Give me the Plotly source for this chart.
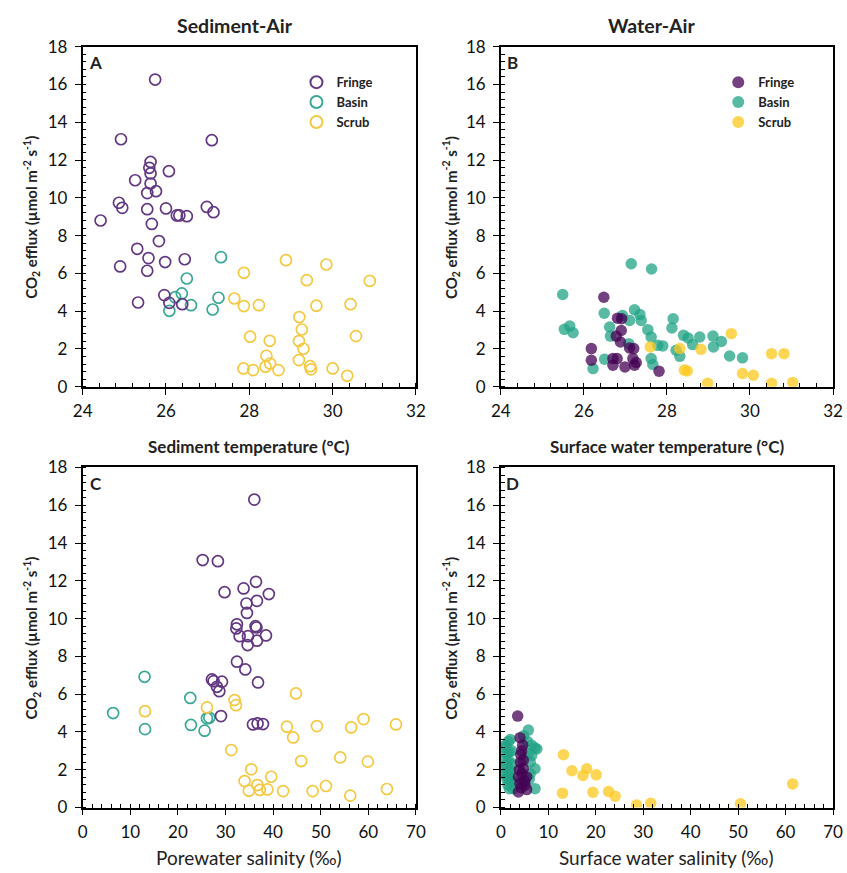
import plotly.graph_objects as go

# ---------------- data ----------------
# Panel A: sediment temperature (°C) vs CO2 efflux
A_fringe_x = [25.74, 24.92, 27.10, 25.63, 25.60, 25.63, 26.07, 25.26, 25.63, 25.55, 25.76, 24.87, 24.95,
              25.55, 26.00, 26.26, 26.32, 26.50, 26.98, 27.14, 24.43, 25.66, 25.83, 25.31, 25.58, 24.90,
              25.55, 25.98, 26.45, 25.33, 25.96, 26.08, 26.39]
A_fringe_y = [16.26, 13.10, 13.05, 11.90, 11.59, 11.29, 11.41, 10.93, 10.76, 10.25, 10.35, 9.74, 9.47,
              9.40, 9.44, 9.07, 9.07, 9.03, 9.52, 9.24, 8.80, 8.62, 7.71, 7.30, 6.81, 6.37,
              6.14, 6.60, 6.75, 4.46, 4.85, 4.44, 4.37]
A_basin_x = [27.32, 26.50, 26.38, 26.22, 26.60, 26.08, 27.26, 27.12]
A_basin_y = [6.86, 5.73, 4.94, 4.74, 4.32, 4.02, 4.71, 4.09]
A_scrub_x = [28.88, 29.85, 27.87, 29.38, 27.64, 27.87, 28.23, 29.61, 29.20, 29.26, 29.19, 29.30, 29.19,
             28.02, 28.49, 28.41, 28.50, 28.39, 27.86, 28.09, 28.70, 29.46, 29.48, 30.00, 30.56, 30.43,
             30.35, 30.89]
A_scrub_y = [6.70, 6.47, 6.03, 5.64, 4.67, 4.27, 4.32, 4.29, 3.69, 3.03, 2.42, 2.01, 1.41,
             2.65, 2.43, 1.64, 1.23, 1.06, 0.97, 0.88, 0.88, 1.09, 0.92, 0.97, 2.68, 4.37,
             0.58, 5.60]

# Panel B: surface water temperature (°C) vs CO2 efflux
B_fringe_x = [26.48, 26.81, 26.91, 26.90, 26.78, 26.88, 26.18, 26.18, 26.70, 26.80, 26.70, 26.99,
              27.10, 27.20, 27.18, 27.26, 27.22, 27.81]
B_fringe_y = [4.74, 3.63, 3.60, 2.98, 2.68, 2.37, 2.02, 1.40, 1.49, 1.49, 1.14, 1.05,
              2.05, 2.02, 1.49, 1.28, 1.14, 0.82]
B_basin_x = [27.14, 27.63, 25.49, 25.53, 25.66, 25.74, 26.49, 26.62, 26.64, 26.93, 27.10, 27.22,
             27.35, 27.38, 27.54, 27.62, 27.78, 27.90, 27.08, 26.50, 26.22, 27.62, 27.66, 28.15,
             28.12, 28.40, 28.51, 28.62, 28.79, 28.22, 28.31, 29.11, 29.12, 29.31, 29.51, 29.82]
B_basin_y = [6.51, 6.23, 4.88, 3.04, 3.21, 2.86, 3.89, 3.16, 2.68, 3.77, 3.51, 4.07,
             3.82, 3.51, 3.02, 2.63, 2.19, 2.16, 2.28, 1.46, 0.96, 1.49, 1.18, 3.60,
             3.11, 2.72, 2.58, 2.23, 2.63, 1.93, 1.61, 2.68, 2.11, 2.40, 1.63, 1.53]
B_scrub_x = [29.55, 27.60, 28.31, 28.82, 28.42, 28.49, 30.52, 30.82, 29.82, 30.08, 28.98, 30.52, 31.03]
B_scrub_y = [2.81, 2.11, 2.02, 1.98, 0.88, 0.84, 1.75, 1.75, 0.70, 0.61, 0.18, 0.18, 0.23]

# Panel C: porewater salinity (‰) vs CO2 efflux
C_fringe_x = [36.05, 25.2, 28.4, 29.8, 33.8, 36.4, 39.1, 36.6, 34.4, 34.5, 32.4, 36.3,
              32.27, 36.5, 32.97, 34.72, 36.6, 38.5, 34.65, 32.4, 34.16, 36.83, 27.15, 27.5,
              29.26, 28.2, 28.7, 29.05, 35.77, 36.74, 37.87]
C_fringe_y = [16.3, 13.1, 13.04, 11.4, 11.6, 11.95, 11.3, 10.94, 10.8, 10.3, 9.7, 9.6,
              9.48, 9.53, 9.07, 9.07, 8.83, 9.11, 8.6, 7.72, 7.31, 6.62, 6.78, 6.69,
              6.66, 6.39, 6.16, 4.84, 4.40, 4.45, 4.42]
C_basin_x = [6.4, 13.0, 13.1, 22.6, 22.74, 25.61, 26.1, 26.6]
C_basin_y = [5.0, 6.92, 4.15, 5.8, 4.37, 4.07, 4.72, 4.75]
C_scrub_x = [13.1, 26.1, 31.9, 32.2, 44.8, 42.9, 44.2, 49.2, 56.4, 59.0, 65.8, 31.2, 45.9, 54.1,
             59.9, 35.4, 39.6, 34.0, 34.9, 36.7, 37.2, 38.8, 42.1, 48.3, 51.1, 56.2, 63.9]
C_scrub_y = [5.1, 5.3, 5.69, 5.42, 6.04, 4.28, 3.71, 4.31, 4.24, 4.68, 4.40, 3.04, 2.46, 2.65,
             2.43, 2.02, 1.63, 1.40, 0.89, 1.19, 0.93, 0.96, 0.87, 0.87, 1.14, 0.63, 0.98]

# Panel D: surface water salinity (‰) vs CO2 efflux
D_fringe_x = [3.55, 4.04, 4.4, 4.74, 4.1, 4.74, 3.7, 5.45, 4.04, 5.1, 3.7, 5.45, 4.4, 4.6, 4.2, 5.0, 4.3, 3.9]
D_fringe_y = [4.84, 3.7, 3.0, 2.5, 2.4, 2.06, 1.62, 1.62, 1.27, 1.2, 0.82, 0.95, 1.8, 3.3, 2.8, 1.4, 1.05, 2.0]
D_basin_x = [5.8, 4.8, 1.6, 7.2, 1.8, 5.8, 1.24, 2.0, 7.2, 1.6, 2.2, 1.8, 7.2, 0.8, 6.5, 7.6, 6.5, 1.3,
             1.6, 0.9, 1.96, 1.26, 2.67, 6.18, 1.0, 2.3, 0.7, 1.5, 2.5, 6.0, 1.0, 2.0, 6.2, 1.4, 2.6, 5.6]
D_basin_y = [4.1, 3.8, 3.5, 3.15, 2.95, 2.85, 2.26, 2.0, 2.05, 1.55, 1.4, 1.0, 1.0, 3.15, 3.3, 3.1, 2.76, 2.85,
             2.5, 2.14, 1.88, 1.52, 1.35, 1.79, 3.3, 3.0, 1.8, 1.2, 2.3, 1.5, 2.6, 3.6, 2.4, 1.7, 1.0, 3.5]
D_scrub_x = [13.2, 15.0, 13.0, 18.1, 17.3, 20.1, 19.4, 22.7, 24.1, 28.6, 31.6, 50.5, 61.5]
D_scrub_y = [2.8, 1.95, 0.76, 2.05, 1.70, 1.73, 0.81, 0.85, 0.60, 0.14, 0.23, 0.2, 1.25]

groups = ["Fringe", "Basin", "Scrub"]
col_open = {"Fringe": "#633882", "Basin": "#3aa896", "Scrub": "#f5c842"}
col_fill = {"Fringe": "#440154", "Basin": "#22a386", "Scrub": "#fcc81e"}

FONT = "Lato, Open Sans, sans-serif"

fig = go.Figure()

panels = {
    "A": ("x", "y", {"Fringe": (A_fringe_x, A_fringe_y), "Basin": (A_basin_x, A_basin_y), "Scrub": (A_scrub_x, A_scrub_y)}, True, "legend"),
    "B": ("x2", "y2", {"Fringe": (B_fringe_x, B_fringe_y), "Basin": (B_basin_x, B_basin_y), "Scrub": (B_scrub_x, B_scrub_y)}, False, "legend2"),
    "C": ("x3", "y3", {"Fringe": (C_fringe_x, C_fringe_y), "Basin": (C_basin_x, C_basin_y), "Scrub": (C_scrub_x, C_scrub_y)}, True, None),
    "D": ("x4", "y4", {"Fringe": (D_fringe_x, D_fringe_y), "Basin": (D_basin_x, D_basin_y), "Scrub": (D_scrub_x, D_scrub_y)}, False, None),
}

rank = {"Fringe": 1, "Basin": 2, "Scrub": 3}
for key, (xa, ya, data, is_open, leg) in panels.items():
    for g in ["Basin", "Fringe", "Scrub"]:
        xs, ys = data[g]
        if is_open:
            marker = dict(symbol="circle-open", size=11, color=col_open[g], line=dict(width=1.7, color=col_open[g]))
        else:
            marker = dict(symbol="circle", size=11.5, color=col_fill[g], opacity=0.75, line=dict(width=0))
        fig.add_trace(go.Scatter(
            x=xs, y=ys, mode="markers", name=g, marker=marker,
            xaxis=xa, yaxis=ya, showlegend=leg is not None,
            legend=leg if leg else "legend", legendrank=rank[g],
        ))

xA = [0.0976, 0.4911]
xB = [0.5913, 0.9835]
yTop = [0.5570, 0.9465]
yBot = [0.0750, 0.4645]

TICKFONT = dict(family=FONT, size=17, color="#111")

def xax(domain, anchor, rng, dtick, mdtick):
    return dict(domain=domain, anchor=anchor, range=rng, dtick=dtick, tick0=0,
                showline=True, linecolor="black", linewidth=1.6, mirror=True,
                ticks="outside", ticklen=6, tickwidth=1.4, tickcolor="black",
                minor=dict(dtick=mdtick, ticks="inside", ticklen=4, tickwidth=1, tickcolor="black"),
                showgrid=False, zeroline=False, ticklabelstandoff=2, automargin=False,
                tickfont=TICKFONT, fixedrange=True)

def yax(domain, anchor):
    return dict(domain=domain, anchor=anchor, range=[0, 18], dtick=2, tick0=0,
                showline=True, linecolor="black", linewidth=1.6, mirror=True,
                ticks="outside", ticklen=6, tickwidth=1.4, tickcolor="black",
                minor=dict(dtick=0.4, ticks="inside", ticklen=4, tickwidth=1, tickcolor="black"),
                showgrid=False, zeroline=False, ticklabelstandoff=4, automargin=False,
                tickfont=TICKFONT, fixedrange=True)

LEGFONT = dict(family=FONT, size=13, color="#222", weight="bold")
fig.update_layout(
    width=847, height=873,
    margin=dict(l=0, r=0, t=0, b=0, pad=0, autoexpand=False),
    paper_bgcolor="white", plot_bgcolor="white",
    font=dict(family=FONT, color="#222"),
    xaxis=xax(xA, "y", [24, 32], 2, 0.4),
    yaxis=yax(yTop, "x"),
    xaxis2=xax(xB, "y2", [24, 32], 2, 0.4),
    yaxis2=yax(yTop, "x2"),
    xaxis3=xax(xA, "y3", [0, 70], 10, 2),
    yaxis3=yax(yBot, "x3"),
    xaxis4=xax(xB, "y4", [0, 70], 10, 2),
    yaxis4=yax(yBot, "x4"),
    legend=dict(x=0.350, y=0.923, xanchor="left", yanchor="top", bgcolor="rgba(0,0,0,0)",
                font=LEGFONT, tracegroupgap=0, itemsizing="constant"),
    legend2=dict(x=0.848, y=0.923, xanchor="left", yanchor="top", bgcolor="rgba(0,0,0,0)",
                 font=LEGFONT, tracegroupgap=0, itemsizing="constant"),
    showlegend=True,
)

ytitle = "CO<sub>2</sub> efflux (µmol m<sup>-2</sup> s<sup>-1</sup>)"
ann = [
    dict(text="<b>Sediment-Air</b>", x=0.277, y=0.971, font=dict(size=19.5)),
    dict(text="<b>Water-Air</b>", x=0.769, y=0.971, font=dict(size=19.5)),
    dict(text="<b>A</b>", x=0.1133, y=0.928, font=dict(size=17)),
    dict(text="<b>B</b>", x=0.6045, y=0.928, font=dict(size=17)),
    dict(text="<b>C</b>", x=0.1133, y=0.4456, font=dict(size=17)),
    dict(text="<b>D</b>", x=0.6045, y=0.4456, font=dict(size=17)),
    dict(text="<b>Sediment temperature (°C)</b>", x=0.2944, y=0.489, font=dict(size=17)),
    dict(text="<b>Surface water temperature (°C)</b>", x=0.7874, y=0.489, font=dict(size=17)),
    dict(text="Porewater salinity (‰)", x=0.2944, y=0.0172, font=dict(size=19)),
    dict(text="Surface water salinity (‰)", x=0.7874, y=0.0172, font=dict(size=19)),
    dict(text="<b>" + ytitle + "</b>", x=0.037, y=0.751, textangle=-90, font=dict(size=15)),
    dict(text="<b>" + ytitle + "</b>", x=0.532, y=0.751, textangle=-90, font=dict(size=15)),
    dict(text="<b>" + ytitle + "</b>", x=0.037, y=0.269, textangle=-90, font=dict(size=15)),
    dict(text="<b>" + ytitle + "</b>", x=0.532, y=0.269, textangle=-90, font=dict(size=15)),
]
for a in ann:
    a.update(xref="paper", yref="paper", showarrow=False, xanchor="center", yanchor="middle")
    a["font"].update(family=FONT, color="#222")
fig.update_layout(annotations=ann)

fig.write_html(
    "out.html",
    config={"displayModeBar": False},
    post_script="document.body.style.margin='0';document.body.style.overflow='hidden';"
                "document.documentElement.style.overflow='hidden';",
)
